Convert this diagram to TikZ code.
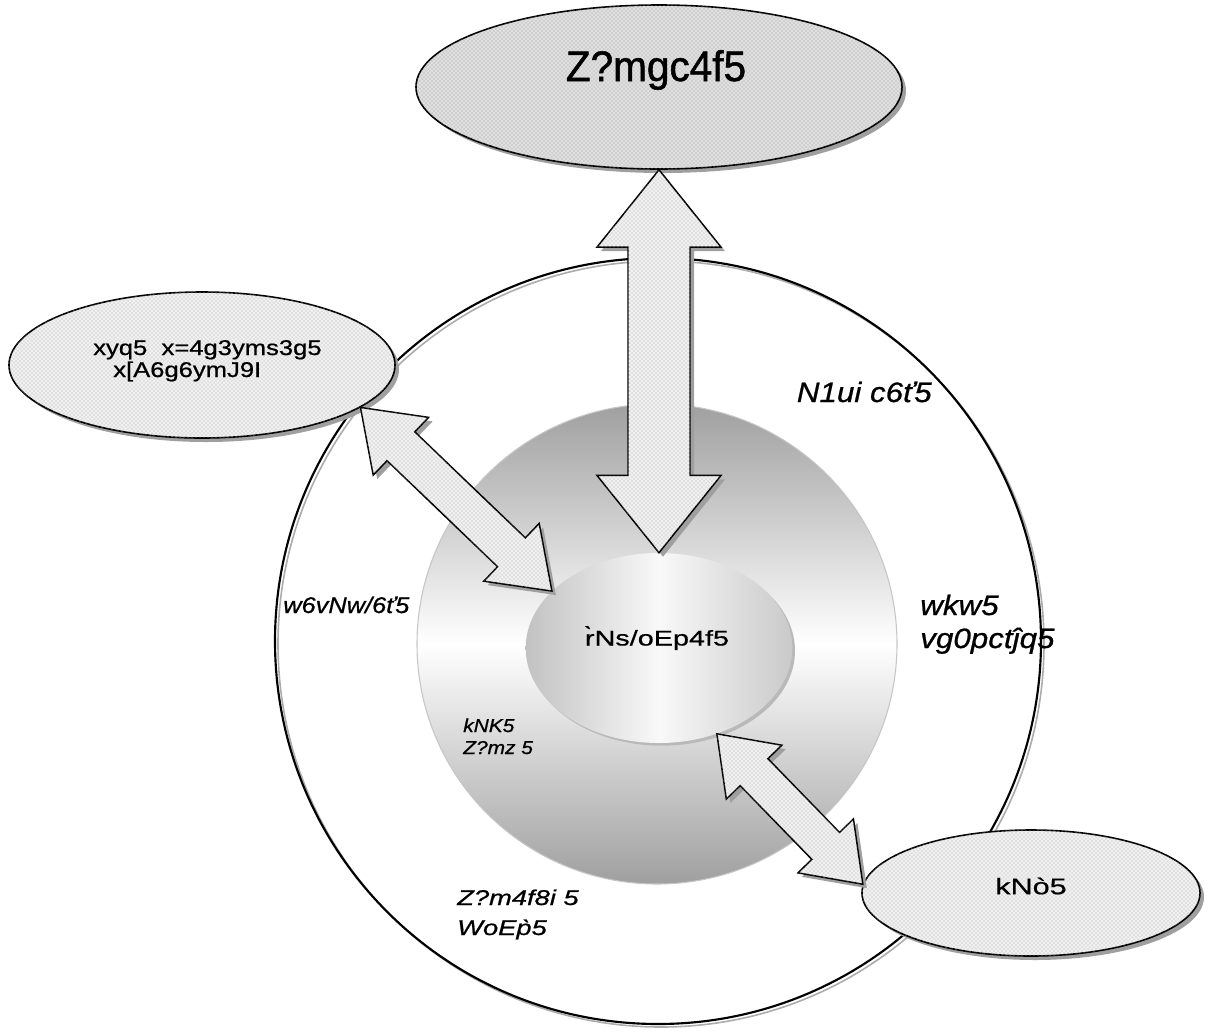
\documentclass[tikz,border=0pt]{standalone}
\usepackage{fontspec}
\setmainfont{Liberation Sans}
\newfontfamily\fTop[FakeBold=1.2,FakeStretch=0.95]{Liberation Sans}
\newfontfamily\fWide[FakeStretch=1.2,FakeBold=0.8]{Liberation Sans}
\newfontfamily\fCore[FakeStretch=1.35,FakeBold=0.6]{Liberation Sans}
\newfontfamily\fIt[FakeStretch=1.12,FakeBold=0.8]{Liberation Sans}
\newfontfamily\fItW[FakeStretch=1.28,FakeBold=0.8]{Liberation Sans}
\usetikzlibrary{calc,shapes.geometric,shadows,patterns}
\newcommand\dblarrow[6]{%
\draw[#1] (#2)
 -- ($(#2)!#4!(#3)!#5!90:(#3)$)
 -- ($(#2)!#4!(#3)!#6!90:(#3)$)
 -- ($(#3)!#4!(#2)!#6!-90:(#2)$)
 -- ($(#3)!#4!(#2)!#5!-90:(#2)$)
 -- (#3)
 -- ($(#3)!#4!(#2)!#5!90:(#2)$)
 -- ($(#3)!#4!(#2)!#6!90:(#2)$)
 -- ($(#2)!#4!(#3)!#6!-90:(#3)$)
 -- ($(#2)!#4!(#3)!#5!-90:(#3)$)
 -- cycle;}
\tikzset{
 dotA/.style={fill=gray!25, postaction={pattern=crosshatch dots, pattern color=gray!75}},
 dotB/.style={fill=gray!12, postaction={pattern=crosshatch dots, pattern color=gray!60}},
 shad/.style={drop shadow={shadow xshift=3pt, shadow yshift=-3pt, fill=gray!75, opacity=1}},
 ell/.style={ellipse, draw=black, line width=1.2pt, inner sep=0pt},
 arr/.style={draw=black, line width=1.1pt, line join=miter, dotB, shad},
 lab/.style={inner sep=0pt, anchor=base west},
 itA/.style={font=\fIt\itshape\fontsize{21}{25}\selectfont},
 itB/.style={font=\fIt\itshape\fontsize{17}{20}\selectfont},
 itC/.style={font=\fIt\itshape\fontsize{14}{17}\selectfont},
 itD/.style={font=\fItW\itshape\fontsize{16}{19}\selectfont}
}
\begin{document}
\begin{tikzpicture}[x=0.75pt,y=-0.75pt]
\useasboundingbox (0,0) rectangle (1214,1033);
% outer circle with offset shadow line
\node[circle, draw=gray!65, line width=1.2pt, minimum size=574.5pt, inner sep=0pt] (outershadow) at (661,644) {};
\node[circle, draw=black, line width=1.6pt, minimum size=574.5pt, inner sep=0pt] (outer) at (658,641) {};
% shaded ring
\node[circle, minimum size=360pt, inner sep=0pt, draw=gray!45, line width=0.8pt,
      top color=gray!75, bottom color=gray!75, middle color=white] (ring) at (657,644) {};
% core ellipse
\node[ellipse, minimum width=200pt, minimum height=142.5pt, inner sep=0pt,
      left color=gray!48, right color=gray!42, middle color=gray!5,
      drop shadow={shadow xshift=2pt, shadow yshift=-2pt, fill=gray!55, opacity=1}] (core) at (659,648) {};
\node[font=\fCore\fontsize{16}{19}\selectfont] (coret) at (657,638) {r̀Ns/oEp4f5};
% outer ellipses
\node[ell, dotA, shad, minimum width=364.5pt, minimum height=123pt] (reg) at (659,87) {};
\node[font=\fTop\fontsize{32}{36}\selectfont] (regt) at (656,70) {Z?mgc4f5};
\node[ell, dotB, shad, minimum width=289.5pt, minimum height=109.5pt] (lft) at (202,365) {};
\node[font=\fWide\fontsize{16}{16.5}\selectfont, inner sep=0pt, anchor=base west, align=left] (lftt) at (93,377) {xyq5\ \ x=4g3yms3g5\\\hspace*{15pt}x[A6g6ymJ9I};
\node[ell, dotB, shad, minimum width=253.5pt, minimum height=94.5pt] (rgt) at (1031,893) {};
\node[font=\fCore\fontsize{17}{19}\selectfont] (rgtt) at (1031,886) {kNò5};
% arrows
\dblarrow{arr}{reg.south}{core.north}{58pt}{46.5pt}{23.25pt}
\dblarrow{arr}{lft.-15}{core.152}{42pt}{30pt}{15pt}
\dblarrow{arr}{core.-56}{rgt.177}{40pt}{29pt}{14.5pt}
% italic labels
\node[lab, itA, anchor=base east] (l1) at (932,402) {N1ui c6ť5};
\node[lab, itA] (l2a) at (920,615) {wkw5};
\node[lab, itA] (l2b) at (920,648) {vg0pctĵq5};
\node[lab, itB] (l3) at (283,613) {w6vNw/6ť5};
\node[lab, itC] (l4a) at (463,732) {kNK5};
\node[lab, itC] (l4b) at (463,754) {Z?mz 5};
\node[lab, itD] (l5a) at (457,905) {Z?m4f8i 5};
\node[lab, itD] (l5b) at (457,935) {WoEp̀5};
\end{tikzpicture}
\end{document}
